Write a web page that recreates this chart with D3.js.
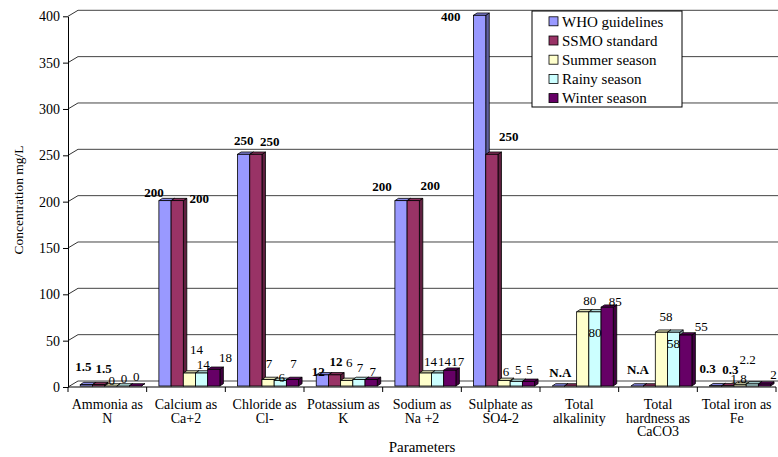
<!DOCTYPE html>
<html>
<head>
<meta charset="utf-8">
<script src="https://cdn.jsdelivr.net/npm/d3@7"></script>
<style>
  html, body { margin: 0; padding: 0; background: #fff; }
  svg { display: block; }
</style>
</head>
<body>
<svg id="chart" width="778" height="457"></svg>
<script>
// Parameter names (one entry per line of the axis label)
const categories = [
  ["Ammonia as", "N"],
  ["Calcium as", "Ca+2"],
  ["Chloride as", "Cl-"],
  ["Potassium as", "K"],
  ["Sodium as", "Na +2"],
  ["Sulphate as", "SO4-2"],
  ["Total", "alkalinity"],
  ["Total", "hardness as", "CaCO3"],
  ["Total iron as", "Fe"]
];

// Concentrations in mg/L (null = not available)
const whoGuidelines = [1.5, 200, 250, 12, 200, 400, null, null, 0.3];
const ssmoStandard  = [1.5, 200, 250, 12, 200, 250, null, null, 0.3];
const summerSeason  = [0, 14, 7, 6, 14, 6, 80, 58, 1.8];
const rainySeason   = [0, 14, 6, 7, 14, 5, 80, 58, 2.2];
const winterSeason  = [0, 18, 7, 7, 17, 5, 85, 55, 2];

const seriesNames = ["WHO guidelines", "SSMO standard", "Summer season", "Rainy season", "Winter season"];
const yTicks = [0, 50, 100, 150, 200, 250, 300, 350, 400];

// Hand placement of value labels: [dx from bar centre, dy from bar top]
const labelNudges = [
  [[-3,-18],[-11,-8],[0,-14],[-4,-3],[-19,-14],[-29,1],[2,-14],[1,-17],[-8,-17]],
  [[5,-16],[22,-2],[14,-13],[1.5,-13],[17,-15],[17,-18],null,null,[2.5,-16]],
  [[1,-5.5],[7,-23.5],[1,-16],[2.5,-18],[5,-11.5],[2,-9],[7,-11.5],[4.5,-16],[-1.5,-5.5]],
  [[1,-8],[1.6,-8.5],[1.4,-3],[1,-12],[7,-11.5],[2,-12],[0,20.5],[0,11.5],[-4.7,-25]],
  [[1,-9.5],[11.6,-12],[1,-15.7],[1.5,-8],[8,-9],[1,-12],[8,-6],[15.5,-8.6],[9,-10]]
];

const series = [
  { name: seriesNames[0], values: whoGuidelines, color: "#9999FF", bold: true },
  { name: seriesNames[1], values: ssmoStandard,  color: "#993366", bold: true },
  { name: seriesNames[2], values: summerSeason,  color: "#FFFFCC", bold: false },
  { name: seriesNames[3], values: rainySeason,   color: "#CCFFFF", bold: false },
  { name: seriesNames[4], values: winterSeason,  color: "#660066", bold: false }
];

const FONT = "Liberation Serif";
const svg = d3.select("#chart").attr("font-family", FONT);

// Plot frame and 3-D depth of the back wall
const left = 68, right = 776;
const wallDx = 10, wallDy = -6;
const barShift = { dx: 3.4, dy: -1 };   // bars sit slightly behind the front plane
const barDepth = { dx: 3.5, dy: -2.3 };

const y = d3.scaleLinear().domain([0, 400]).range([387, 16.3]);
const x = d3.scaleBand().domain(d3.range(categories.length)).range([left, right]).paddingInner(0).paddingOuter(0);
const xi = d3.scaleBand().domain(d3.range(series.length)).range([0, x.bandwidth()]).paddingInner(0).paddingOuter(0.724);

// Back-wall gridlines with their diagonal returns to the axis
const grid = svg.append("g");
yTicks.forEach(t => {
  const yy = y(t);
  grid.append("line").attr("x1", left).attr("y1", yy).attr("x2", left + wallDx).attr("y2", yy + wallDy)
    .attr("stroke", "#333").attr("stroke-width", 1);
  grid.append("line").attr("x1", left + wallDx).attr("y1", yy + wallDy).attr("x2", 800).attr("y2", yy + wallDy)
    .attr("stroke", "#444").attr("stroke-width", 1);
});

// Value axis
const yAxis = d3.axisLeft(y).tickValues(yTicks).tickSize(5).tickSizeOuter(0).tickPadding(3);
const gy = svg.append("g").attr("transform", `translate(${left},0)`).call(yAxis)
  .attr("font-family", FONT).attr("font-size", 14);
gy.select(".domain").attr("stroke", "#000");
gy.selectAll(".tick line").attr("stroke", "#000");
gy.selectAll(".tick text").attr("font-family", FONT).attr("font-size", 14).attr("fill", "#000");

// Category axis: base line and boundary ticks
const gx = svg.append("g");
gx.append("line").attr("x1", left).attr("x2", right).attr("y1", y(0)).attr("y2", y(0)).attr("stroke", "#000");
d3.range(categories.length + 1).forEach(i => {
  const xx = left + i * x.bandwidth();
  gx.append("line").attr("x1", xx).attr("x2", xx).attr("y1", y(0)).attr("y2", y(0) + 5).attr("stroke", "#000");
});
categories.forEach((lines, i) => {
  const t = gx.append("text").attr("text-anchor", "middle").attr("font-family", FONT)
    .attr("font-size", 14).attr("fill", "#000");
  lines.forEach((ln, k) => {
    t.append("tspan").attr("x", x(i) + x.bandwidth() / 2).attr("y", 404 + k * 13.6).attr("dy", "0.35em").text(ln);
  });
});

// Axis titles
svg.append("text").attr("x", 422).attr("y", 447).attr("dy", "0.35em").attr("text-anchor", "middle")
  .attr("font-family", FONT).attr("font-size", 15).text("Parameters");
svg.append("text").attr("transform", "translate(18,200) rotate(-90)").attr("dy", "0.35em")
  .attr("text-anchor", "middle").attr("font-family", FONT).attr("font-size", 13.5).text("Concentration mg/L");

// 3-D bars: front, top and right-hand faces
const bars = svg.append("g");
function drawBar(x0, x1, yTop, yBase, color) {
  const c = d3.color(color);
  const dx = barDepth.dx, dy = barDepth.dy;
  // side face
  bars.append("path")
    .attr("d", `M${x1},${yBase} L${x1 + dx},${yBase + dy} L${x1 + dx},${yTop + dy} L${x1},${yTop} Z`)
    .attr("fill", c.darker(1.3)).attr("stroke", "#000").attr("stroke-width", 0.8).attr("stroke-linejoin", "round");
  // top face
  bars.append("path")
    .attr("d", `M${x0},${yTop} L${x0 + dx},${yTop + dy} L${x1 + dx},${yTop + dy} L${x1},${yTop} Z`)
    .attr("fill", c.darker(0.35)).attr("stroke", "#000").attr("stroke-width", 0.8).attr("stroke-linejoin", "round");
  // front face
  bars.append("rect").attr("x", x0).attr("y", yTop).attr("width", x1 - x0).attr("height", Math.max(0, yBase - yTop))
    .attr("fill", color).attr("stroke", "#000").attr("stroke-width", 0.8);
}

categories.forEach((_, ci) => {
  series.forEach((s, si) => {
    const v = s.values[ci] == null ? 0 : s.values[ci];
    const x0 = x(ci) + xi(si) + barShift.dx;
    const x1 = x0 + xi.bandwidth();
    drawBar(x0, x1, y(v) + barShift.dy, y(0) + barShift.dy, s.color);
  });
});

// Value labels
const labels = svg.append("g");
series.forEach((s, si) => {
  s.values.forEach((v, ci) => {
    const nudge = labelNudges[si][ci];
    if (!nudge) return;
    const cx = x(ci) + xi(si) + barShift.dx + xi.bandwidth() / 2;
    const top = y(v == null ? 0 : v) + barShift.dy;
    labels.append("text")
      .attr("x", cx + nudge[0]).attr("y", top + nudge[1]).attr("dy", "0.35em")
      .attr("text-anchor", "middle").attr("font-family", FONT).attr("font-size", 13)
      .attr("font-weight", s.bold ? "bold" : "normal").attr("fill", "#000")
      .text(v == null ? "N.A" : String(v));
  });
});

// Legend
const lg = svg.append("g");
lg.append("rect").attr("x", 532).attr("y", 11).attr("width", 150).attr("height", 96)
  .attr("fill", "#fff").attr("stroke", "#000").attr("stroke-width", 1);
series.forEach((s, i) => {
  const cy = 21.3 + i * 19.2;
  lg.append("rect").attr("x", 549).attr("y", cy - 4.5).attr("width", 9).attr("height", 9)
    .attr("fill", s.color).attr("stroke", "#000").attr("stroke-width", 0.8);
  lg.append("text").attr("x", 562).attr("y", cy).attr("dy", "0.35em")
    .attr("font-family", FONT).attr("font-size", 15).text(s.name);
});
</script>
</body>
</html>
